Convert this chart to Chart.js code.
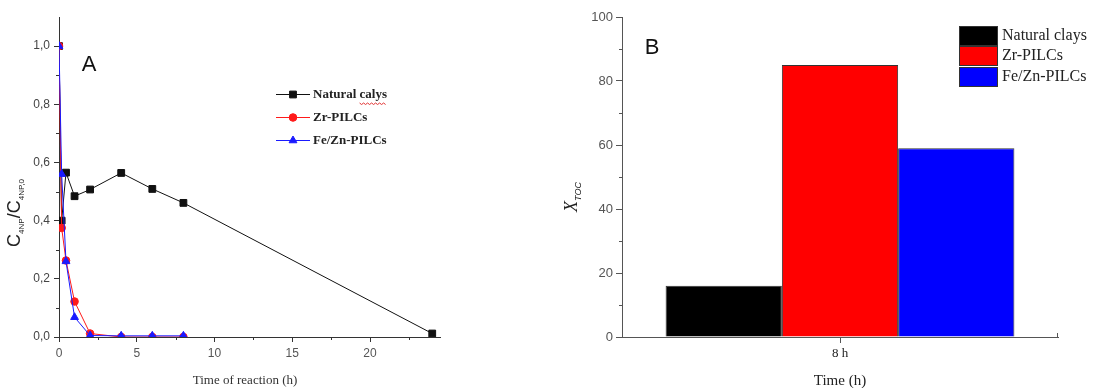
<!DOCTYPE html>
<html>
<head>
<meta charset="utf-8">
<script src="https://cdn.jsdelivr.net/npm/chart.js@4"></script>
<style>
  html, body { margin: 0; padding: 0; background: #fff; }
  body { width: 1093px; height: 388px; position: relative; overflow: hidden; }
  #wrapA { position: absolute; left: 0; top: 0; width: 470px; height: 388px; }
  #wrapB { position: absolute; left: 540px; top: 0; width: 553px; height: 388px; }
</style>
</head>
<body>
<div id="wrapA"><canvas id="chartA"></canvas></div>
<div id="wrapB"><canvas id="chartB"></canvas></div>
<script>
// ── data ──
const timeA = [0, 0.17, 0.45, 1, 2, 4, 6, 8, 24];
const naturalClaysA = [1.0, 0.40, 0.565, 0.484, 0.507, 0.564, 0.509, 0.461, 0.012];
const zrPilcsA = [1.0, 0.375, 0.263, 0.122, 0.012, 0.0, 0.0, 0.0, null];
const feZnPilcsA = [1.0, 0.56, 0.26, 0.068, 0.005, 0.004, 0.004, 0.004, null];
const legendNamesA = ['Natural calys', 'Zr-PILCs', 'Fe/Zn-PILCs'];
const xTicksA = [0, 5, 10, 15, 20];
const xMinorA = [2.5, 7.5, 12.5, 17.5, 22.5];
const yTicksA = [0, 0.2, 0.4, 0.6, 0.8, 1.0];
const yMinorA = [0.1, 0.3, 0.5, 0.7, 0.9];

const categoriesB = ['8 h'];
const seriesNamesB = ['Natural clays', 'Zr-PILCs', 'Fe/Zn-PILCs'];
const xtocB = [16, 85, 59];
const yTicksB = [0, 20, 40, 60, 80, 100];
const yMinorB = [10, 30, 50, 70, 90];

const colors = ['#000000', '#ff0000', '#0000ff'];
const SANS = '"Liberation Sans", Arial, sans-serif';
const SERIF = '"Liberation Serif", "Times New Roman", serif';

function pts(xs, ys) {
  return xs.map((x, i) => ({ x: x, y: ys[i] })).filter(p => p.y !== null);
}
function fixTicks(list) {
  return scale => { scale.ticks = list.map(v => ({ value: v })); };
}

// minor ticks drawn through the scale
function minorTicks(chart, axisId, values, len, color) {
  const ctx = chart.ctx, s = chart.scales[axisId], a = chart.chartArea;
  ctx.save();
  ctx.strokeStyle = color; ctx.lineWidth = 1;
  ctx.beginPath();
  values.forEach(v => {
    const p = Math.round(s.getPixelForValue(v)) + 0.5;
    if (s.isHorizontal()) { ctx.moveTo(p, a.bottom); ctx.lineTo(p, a.bottom + len); }
    else { ctx.moveTo(a.left - len, p); ctx.lineTo(a.left, p); }
  });
  ctx.stroke();
  ctx.restore();
}

// rotated title built from parts: [text, font, baselineShift]
function rotatedTitle(ctx, x, y, parts, color) {
  ctx.save();
  ctx.translate(x, y);
  ctx.rotate(-Math.PI / 2);
  ctx.fillStyle = color;
  ctx.textBaseline = 'alphabetic';
  let total = 0;
  parts.forEach(p => { ctx.font = p[1]; total += ctx.measureText(p[0]).width; });
  let cx = -total / 2;
  parts.forEach(p => {
    ctx.font = p[1];
    ctx.fillText(p[0], cx, p[2]);
    cx += ctx.measureText(p[0]).width;
  });
  ctx.restore();
}

const decoA = {
  id: 'decoA',
  afterDraw(chart) {
    const ctx = chart.ctx;
    minorTicks(chart, 'y', yMinorA, 3, '#333');
    minorTicks(chart, 'x', xMinorA, 3, '#333');

    ctx.save();
    ctx.fillStyle = '#111';
    ctx.font = '22px ' + SANS;
    ctx.textAlign = 'center'; ctx.textBaseline = 'middle';
    ctx.fillText('A', 89, 65);

    ctx.fillStyle = '#333';
    ctx.font = '13px ' + SERIF;
    ctx.fillText('Time of reaction (h)', 245, 381);
    ctx.restore();

    // y title C4NP/C4NP,0
    rotatedTitle(ctx, 20, 213, [
      ['C', '18px ' + SANS, 0],
      ['4NP', '8px ' + SANS, 4],
      ['/C', '18px ' + SANS, 0],
      ['4NP,0', '8px ' + SANS, 4]
    ], '#222');

    // legend
    const rows = [94, 117, 140];
    const ds = chart.data.datasets;
    ctx.save();
    rows.forEach((ry, i) => {
      const d = ds.find(e => e.label === legendNamesA[i]);
      ctx.strokeStyle = d.borderColor; ctx.lineWidth = 1;
      ctx.beginPath(); ctx.moveTo(276, ry + 0.5); ctx.lineTo(310, ry + 0.5); ctx.stroke();
      ctx.fillStyle = d.pointBackgroundColor;
      Chart.helpers.drawPoint(ctx, { pointStyle: d.pointStyle, radius: d.pointRadius, borderWidth: 1 }, 293, ry + 0.5);
    });
    ctx.fillStyle = '#222';
    ctx.font = 'bold 13px ' + SERIF;
    ctx.textAlign = 'left'; ctx.textBaseline = 'middle';
    rows.forEach((ry, i) => ctx.fillText(legendNamesA[i], 313, ry + 1));
    // spell-check squiggle under "calys"
    const x0 = 313 + ctx.measureText('Natural ').width;
    const x1 = 313 + ctx.measureText('Natural calys').width;
    ctx.strokeStyle = '#e03030'; ctx.lineWidth = 1;
    ctx.beginPath();
    for (let x = x0, k = 0; x <= x1; x += 2, k++) {
      const yy = 103.5 + (k % 2 ? 1 : -0.5);
      if (k === 0) ctx.moveTo(x, yy); else ctx.lineTo(x, yy);
    }
    ctx.stroke();
    ctx.restore();
  }
};

const decoB = {
  id: 'decoB',
  afterDraw(chart) {
    const ctx = chart.ctx, a = chart.chartArea;
    minorTicks(chart, 'y', yMinorB, 3, '#555');
    ctx.save();
    ctx.strokeStyle = '#555'; ctx.lineWidth = 1;
    ctx.beginPath(); ctx.moveTo(Math.round(a.right) - 0.5, a.bottom); ctx.lineTo(Math.round(a.right) - 0.5, a.bottom - 4); ctx.stroke();

    ctx.fillStyle = '#111';
    ctx.font = '22px ' + SANS;
    ctx.textAlign = 'center'; ctx.textBaseline = 'middle';
    ctx.fillText('B', 112, 48);

    ctx.fillStyle = '#222';
    ctx.font = '15px ' + SERIF;
    ctx.fillText('Time (h)', 300, 381);
    ctx.restore();

    rotatedTitle(ctx, 37, 197, [
      ['X', 'italic 18px ' + SERIF, 0],
      ['TOC', 'italic 9px ' + SANS, 4]
    ], '#222');

    // legend
    ctx.save();
    const ys = [26, 46, 67];
    ctx.font = '16px ' + SERIF;
    ctx.textAlign = 'left'; ctx.textBaseline = 'middle';
    chart.data.datasets.forEach((d, i) => {
      ctx.fillStyle = d.backgroundColor;
      ctx.fillRect(419.5, ys[i] + 0.5, 38, 19);
      ctx.strokeStyle = '#333'; ctx.lineWidth = 1;
      ctx.strokeRect(419.5, ys[i] + 0.5, 38, 19);
      ctx.fillStyle = '#222';
      ctx.fillText(d.label, 462, ys[i] + 10);
    });
    ctx.restore();
  }
};

// ── panel A ──
function lineSet(label, ys, color, style, r, order) {
  return {
    label: label, data: pts(timeA, ys),
    borderColor: color, backgroundColor: color,
    pointBackgroundColor: color, pointBorderColor: color,
    borderWidth: 1, pointStyle: style, pointRadius: r, pointBorderWidth: 1,
    tension: 0, order: order
  };
}

new Chart(document.getElementById('chartA').getContext('2d'), {
  type: 'line',
  data: {
    datasets: [
      lineSet(legendNamesA[0], naturalClaysA, '#111111', 'rect', 4.8, 2),
      lineSet(legendNamesA[1], zrPilcsA, '#ff1a1a', 'circle', 3.8, 1),
      lineSet(legendNamesA[2], feZnPilcsA, '#1a1aff', 'triangle', 4.5, 0)
    ]
  },
  options: {
    responsive: true, maintainAspectRatio: false, animation: false,
    layout: { padding: { left: 0, right: 30, top: 17, bottom: 0 } },
    plugins: { legend: { display: false }, tooltip: { enabled: false } },
    scales: {
      x: {
        type: 'linear', min: 0, max: 24.5,
        afterBuildTicks: fixTicks(xTicksA),
        afterFit: s => { s.height = 51; },
        grid: { drawOnChartArea: false, tickLength: 5, color: '#333' },
        border: { color: '#333', width: 1 },
        ticks: { color: '#555', font: { family: SANS, size: 12 }, padding: 4, maxRotation: 0 }
      },
      y: {
        min: 0, max: 1.1,
        afterBuildTicks: fixTicks(yTicksA),
        afterFit: s => { s.width = 59; },
        grid: { drawOnChartArea: false, tickLength: 5, color: '#333' },
        border: { color: '#333', width: 1 },
        ticks: {
          color: '#444', font: { family: SANS, size: 12 }, padding: 4,
          callback: v => v.toFixed(1).replace('.', ',')
        }
      }
    }
  },
  plugins: [decoA]
});

// ── panel B ──
new Chart(document.getElementById('chartB').getContext('2d'), {
  type: 'bar',
  data: {
    labels: categoriesB,
    datasets: seriesNamesB.map((name, i) => ({
      label: name, data: [xtocB[i]],
      backgroundColor: colors[i], borderColor: '#333', borderWidth: 1,
      barPercentage: 1.0, categoryPercentage: 0.8
    }))
  },
  options: {
    responsive: true, maintainAspectRatio: false, animation: false,
    layout: { padding: { left: 0, right: 35, top: 17, bottom: 0 } },
    plugins: { legend: { display: false }, tooltip: { enabled: false } },
    scales: {
      x: {
        afterFit: s => { s.height = 51; },
        grid: { drawOnChartArea: false, offset: false, tickLength: 6, color: '#555' },
        border: { color: '#555', width: 1 },
        ticks: { color: '#222', font: { family: SERIF, size: 13 }, padding: 3 }
      },
      y: {
        min: 0, max: 100,
        afterBuildTicks: fixTicks(yTicksB),
        afterFit: s => { s.width = 82; },
        grid: { drawOnChartArea: false, tickLength: 6, color: '#555' },
        border: { color: '#555', width: 1 },
        ticks: { color: '#555', font: { family: SANS, size: 13 }, padding: 3 }
      }
    }
  },
  plugins: [decoB]
});
</script>
</body>
</html>
